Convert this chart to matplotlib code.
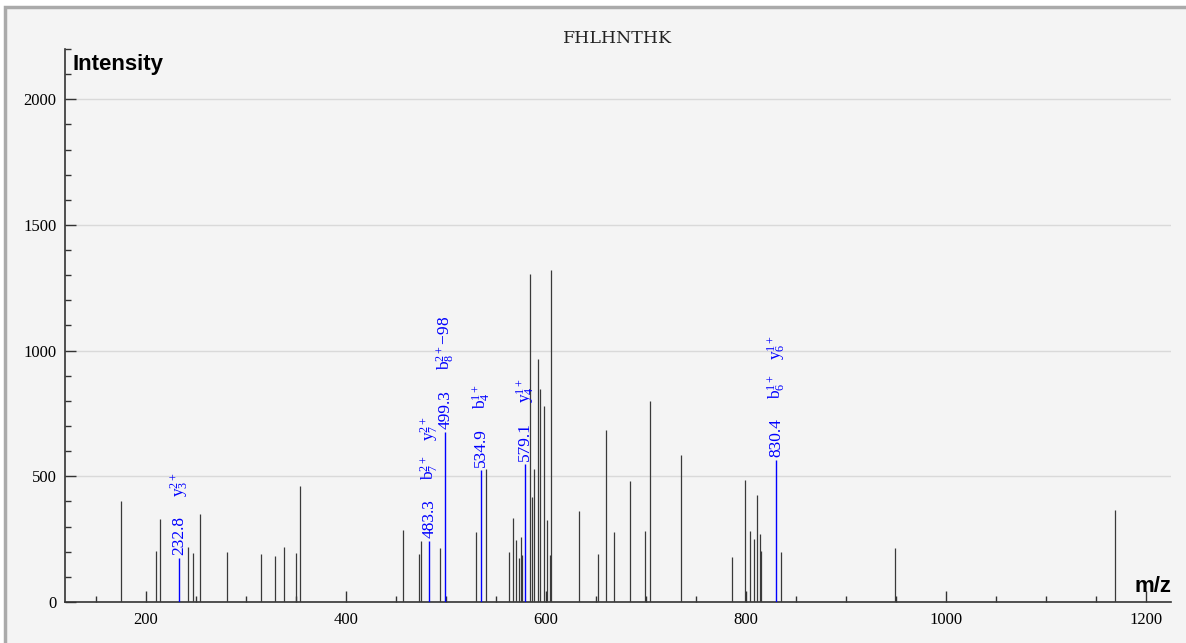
import matplotlib
matplotlib.use("Agg")
import matplotlib.pyplot as plt
from matplotlib.ticker import MultipleLocator
from matplotlib.patches import Rectangle

#peptide and peak lists
peptide = "FHLHNTHK"

peak_mz = [175, 210, 214, 242, 247, 254, 281, 315, 329, 338, 350, 354,
           457, 473, 475, 494, 530, 540, 563, 567, 570, 573, 575, 576,
           584, 586, 588, 592, 594, 598, 601, 604, 605, 633, 652, 660,
           668, 684, 699, 704, 735, 786, 799, 804, 808, 811, 814, 815,
           835, 949, 1169]
peak_int = [402, 203, 330, 219, 195, 350, 199, 191, 183, 219, 195, 462,
            287, 191, 243, 215, 279, 529, 199, 334, 247, 177, 260, 187,
            1306, 419, 531, 967, 848, 781, 326, 188, 1322, 362, 191, 685,
            277, 483, 283, 800, 585, 178, 484, 283, 251, 425, 269, 204,
            198, 214, 365]

#matched fragment ions (blue)
ion_mz = [232.8, 483.3, 499.3, 534.9, 579.1, 830.4]
ion_int = [175, 244, 678, 525, 549, 565]
ion_labels = [
    [r"$\mathregular{y_3^{2+}}$"],
    [r"$\mathregular{b_7^{2+}}$", r"$\mathregular{y_7^{2+}}$"],
    [r"$\mathregular{b_8^{2+}}$" + "\u221298"],
    [r"$\mathregular{b_4^{1+}}$"],
    [r"$\mathregular{y_4^{1+}}$"],
    [r"$\mathregular{b_6^{1+}}$", r"$\mathregular{y_6^{1+}}$"],
]

plt.rcParams["mathtext.fontset"] = "stix"
serif = "Liberation Serif"

fig = plt.figure(figsize=(11.86, 6.43), dpi=100, facecolor="white")
#panel background with grey border on top / left
fig.add_artist(Rectangle((5 / 1186, -0.05), 1.1, 1.05 - 7 / 643,
                         transform=fig.transFigure, facecolor="#f4f4f4",
                         edgecolor="#aaaaaa", linewidth=2.5, zorder=-10))

ax = fig.add_axes([65 / 1186, (643 - 602) / 643, (1171 - 65) / 1186, (602 - 49) / 643])
ax.set_facecolor("none")

ax.vlines(peak_mz, 0, peak_int, color="#3a3a3a", linewidth=0.9, zorder=3)
ax.vlines(ion_mz, 0, ion_int, color="#0000ff", linewidth=1.0, zorder=4)

#labels: m/z value just above peak, ion names further up
offsets = [44, 72]
for mz, inten, labs in zip(ion_mz, ion_int, ion_labels):
    ax.annotate("%.1f" % mz, xy=(mz, inten), xytext=(0, 2), textcoords="offset points",
                rotation=90, ha="center", va="bottom", color="#0000ff",
                fontsize=12.5, family=serif, zorder=5)
    for lab, off in zip(labs, offsets):
        ax.annotate(lab, xy=(mz, inten), xytext=(0.5, off), textcoords="offset points",
                    rotation=90, ha="center", va="bottom", color="#0000ff",
                    fontsize=12.5, family=serif, zorder=5)

ax.set_xlim(119, 1225)
ax.set_ylim(0, 2200)

ax.xaxis.set_major_locator(MultipleLocator(200))
ax.xaxis.set_minor_locator(MultipleLocator(50))
ax.yaxis.set_major_locator(MultipleLocator(500))
ax.yaxis.set_minor_locator(MultipleLocator(100))
ax.tick_params(which="both", direction="in", colors="#333333", width=1,
               labelcolor="black", labelsize=12)
ax.tick_params(which="major", length=8)
ax.tick_params(which="minor", length=4.5)
ax.tick_params(axis="x", pad=7)
ax.tick_params(axis="y", pad=6)
for t in ax.get_xticklabels() + ax.get_yticklabels():
    t.set_family(serif)

ax.yaxis.grid(True, which="major", color="#d9d9d9", linewidth=1)
ax.set_axisbelow(True)

for s in ["top", "right"]:
    ax.spines[s].set_visible(False)
for s in ["left", "bottom"]:
    ax.spines[s].set_color("#333333")
    ax.spines[s].set_linewidth(1.2)

ax.set_title(peptide, family="DejaVu Serif", fontsize=12.5, pad=4, color="#222222")
ax.text(7 / 1106, 1 - 5 / 553, "Intensity", transform=ax.transAxes, ha="left", va="top",
        fontsize=16, fontweight="bold", family="Liberation Sans")
ax.text(1.0, 5 / 553, "m/z", transform=ax.transAxes, ha="right", va="bottom",
        fontsize=16, fontweight="bold", family="Liberation Sans")

fig.savefig("out.png", dpi=100, facecolor=fig.get_facecolor())
